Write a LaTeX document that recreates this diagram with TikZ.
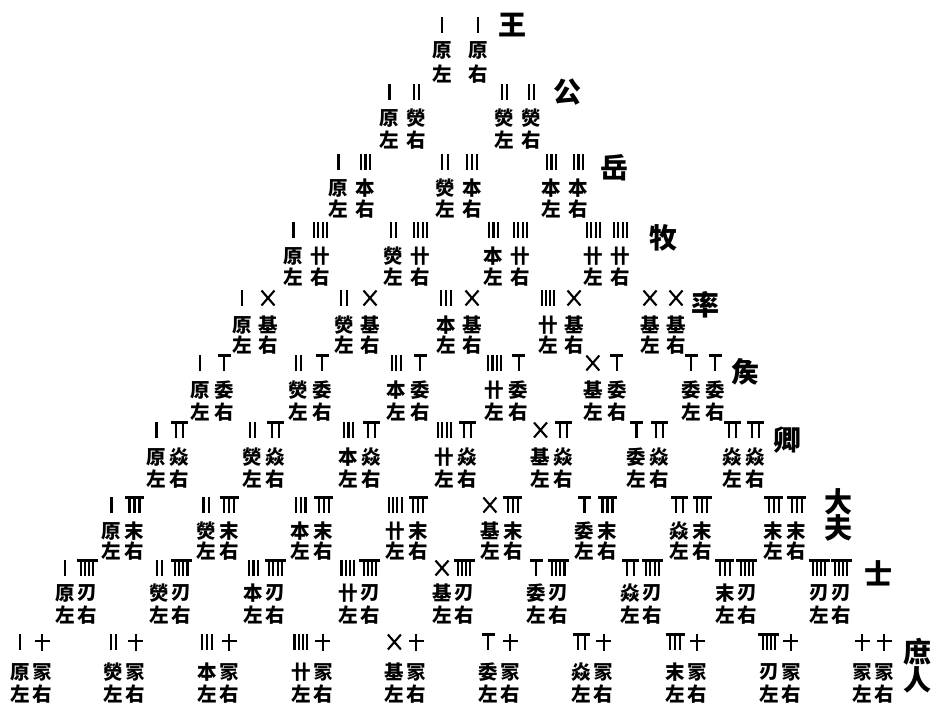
\documentclass[tikz,border=0pt]{standalone}
\usepackage{fontspec}
\newfontfamily\cjk{Noto Sans CJK SC}
\tikzset{
  rodline/.style={line width=2.1pt},
  glyph/.style={inner sep=0pt, font=\cjk\bfseries\fontsize{19.5}{19.5}\selectfont},
  rowlabel/.style={inner sep=0pt, font=\cjk\bfseries\fontsize{28}{28}\selectfont},
}
\newcommand\cname[1]{\ifcase#1\or 原\or 熒\or 本\or 卄\or 基\or 委\or 焱\or 末\or 刃\or 冡\fi}
\newcommand\rodnum[3]{%
  \begin{scope}[shift={(#1,#2)}]
  \ifcase#3\or
    \draw[rodline] (0,-8)--(0,8);\or
    \draw[rodline] (-2.6,-8)--(-2.6,8) (2.6,-8)--(2.6,8);\or
    \draw[rodline] (-4.8,-8)--(-4.8,8) (0,-8)--(0,8) (4.8,-8)--(4.8,8);\or
    \draw[rodline] (-6.3,-8)--(-6.3,8) (-2.1,-8)--(-2.1,8) (2.1,-8)--(2.1,8) (6.3,-8)--(6.3,8);\or
    \draw[rodline] (-6.5,-7.5)--(6.5,7.5) (-6.5,7.5)--(6.5,-7.5);\or
    \draw[rodline] (-6.5,-7.5)--(6.5,-7.5) (0,-7.5)--(0,8);\or
    \draw[rodline] (-8.5,-7.5)--(8.5,-7.5) (-3.5,-7.5)--(-3.5,8) (3.5,-7.5)--(3.5,8);\or
    \draw[rodline] (-9.5,-7.5)--(9.5,-7.5) (-5,-7.5)--(-5,8) (0,-7.5)--(0,8) (5,-7.5)--(5,8);\or
    \draw[rodline] (-10.5,-7.5)--(10.5,-7.5) (-6.2,-7.5)--(-6.2,8) (-2.1,-7.5)--(-2.1,8) (2.1,-7.5)--(2.1,8) (6.2,-7.5)--(6.2,8);\or
    \draw[rodline] (-7.5,-1)--(7.5,-1) (0,-8.5)--(0,8.5);
  \fi
  \end{scope}}
\begin{document}
\begin{tikzpicture}[x=1pt,y=-1pt]
\useasboundingbox (0,0) rectangle (936,715);
\foreach \n/\y/\xa/\sp/\gap/\dc/\dl in {
  1/25/460/0/36/25/49,
  2/92/403/115/27/26/48,
  3/162/352/106.5/27/26/47,
  4/230/307/100/27/26/47,
  5/298/255/102/26/27/47,
  6/363/212/98.2/24/27/49,
  7/430/168/96/23/27/49,
  8/505/123/94.6/23/26/46,
  9/568/76/94.25/22/25/47,
  10/642/31/93.6/22/30/52}{
  \foreach \j in {1,...,\n}{
    \pgfmathsetmacro\lx{\xa+(\j-1)*\sp-\gap/2}
    \pgfmathsetmacro\rx{\xa+(\j-1)*\sp+\gap/2}
    \pgfmathsetmacro\cy{\y+\dc}
    \pgfmathsetmacro\ly{\y+\dl}
    \rodnum{\lx}{\y}{\j}
    \rodnum{\rx}{\y}{\n}
    \node[glyph] (cl-\n-\j) at (\lx,\cy) {\cname{\j}};
    \node[glyph] (cr-\n-\j) at (\rx,\cy) {\cname{\n}};
    \node[glyph] (zl-\n-\j) at (\lx,\ly) {左};
    \node[glyph] (zr-\n-\j) at (\rx,\ly) {右};
  }
}
\node[rowlabel] (r1) at (512,25) {王};
\node[rowlabel] (r2) at (567,92) {公};
\node[rowlabel] (r3) at (614,168) {岳};
\node[rowlabel] (r4) at (663,238) {牧};
\node[rowlabel] (r5) at (705,305) {率};
\node[rowlabel] (r6) at (745,372) {矦};
\node[rowlabel] (r7) at (787,440) {卿};
\node[rowlabel] (r8a) at (838,502) {大};
\node[rowlabel] (r8b) at (838,528) {夫};
\node[rowlabel] (r9) at (878,573) {士};
\node[rowlabel] (r10a) at (917,652) {庶};
\node[rowlabel] (r10b) at (917,680) {人};
\end{tikzpicture}
\end{document}
